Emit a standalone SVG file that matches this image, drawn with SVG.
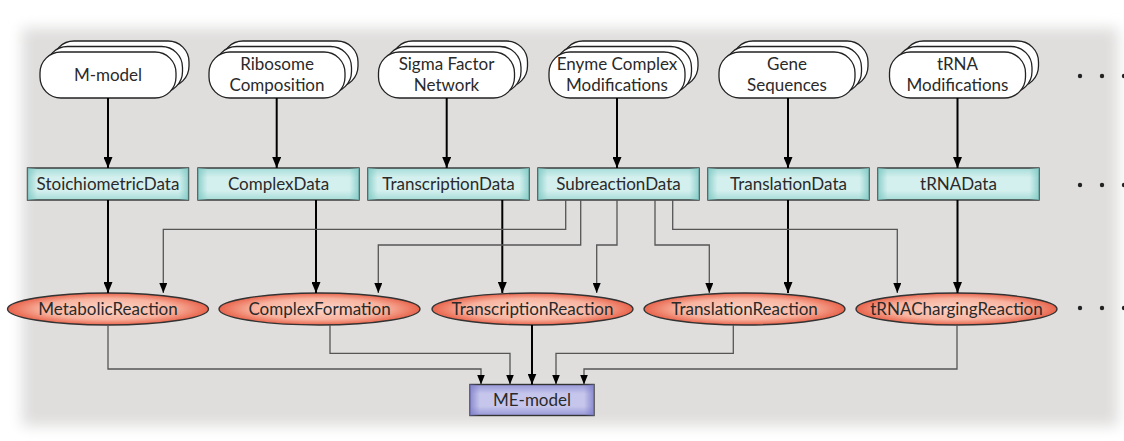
<svg xmlns="http://www.w3.org/2000/svg" width="1124" height="441" viewBox="0 0 1124 441">
<defs>
<filter id="blur" x="-5%" y="-10%" width="110%" height="120%"><feGaussianBlur stdDeviation="7"/></filter>
<linearGradient id="tealV" x1="0" y1="0" x2="0" y2="1">
<stop offset="0" stop-color="#a6dcd8"/><stop offset="0.3" stop-color="#d4f0ee"/><stop offset="0.7" stop-color="#d4f0ee"/><stop offset="1" stop-color="#a6dcd8"/>
</linearGradient>
<linearGradient id="tealH" x1="0" y1="0" x2="1" y2="0">
<stop offset="0" stop-color="#7ec8c4" stop-opacity="0.8"/><stop offset="0.06" stop-color="#7ec8c4" stop-opacity="0"/><stop offset="0.94" stop-color="#7ec8c4" stop-opacity="0"/><stop offset="1" stop-color="#7ec8c4" stop-opacity="0.8"/>
</linearGradient>
<radialGradient id="salmon" cx="0.5" cy="0.5" r="0.5">
<stop offset="0" stop-color="#fcd6c8"/><stop offset="0.65" stop-color="#f8b39f"/><stop offset="1" stop-color="#e9644c"/>
</radialGradient>
<linearGradient id="lavV" x1="0" y1="0" x2="0" y2="1">
<stop offset="0" stop-color="#9898d8"/><stop offset="0.3" stop-color="#c6c6ec"/><stop offset="0.7" stop-color="#c6c6ec"/><stop offset="1" stop-color="#9898d8"/>
</linearGradient>
<linearGradient id="lavH" x1="0" y1="0" x2="1" y2="0">
<stop offset="0" stop-color="#7c7cc8" stop-opacity="0.8"/><stop offset="0.08" stop-color="#7c7cc8" stop-opacity="0"/><stop offset="0.92" stop-color="#7c7cc8" stop-opacity="0"/><stop offset="1" stop-color="#7c7cc8" stop-opacity="0.8"/>
</linearGradient>
<marker id="ah" viewBox="0 0 11 9" markerUnits="userSpaceOnUse" markerWidth="11" markerHeight="9" refX="11" refY="4.5" orient="auto"><path d="M0,0 L11,4.5 L0,9 z" fill="#000"/></marker>
<marker id="ahs" viewBox="0 0 10 8" markerUnits="userSpaceOnUse" markerWidth="10" markerHeight="8" refX="10" refY="4" orient="auto"><path d="M0,0 L10,4 L0,8 z" fill="#000"/></marker>
</defs>
<style>
.t{font-family:Lato,"Open Sans","Liberation Sans",sans-serif;font-size:17px;fill:#2a2a2a;text-anchor:middle}
.stk{fill:#fff;stroke:#222;stroke-width:1.3}
.box{stroke:#333;stroke-width:1.4}
.ell{fill:url(#salmon);stroke:#333;stroke-width:1.4}
.thick{fill:none;stroke:#000;stroke-width:2;marker-end:url(#ah)}
.thin{fill:none;stroke:#555;stroke-width:1.3;marker-end:url(#ahs)}
.dot{fill:#222}
</style>
<rect width="1124" height="441" fill="#fff"/>
<rect x="22" y="28" width="1096" height="398" fill="#dfdedd" filter="url(#blur)"/>

<g id="src-mmodel">
<rect class="stk" x="53" y="41" width="136" height="46" rx="21"/>
<rect class="stk" x="46.5" y="46.5" width="136" height="46" rx="21"/>
<rect class="stk" x="40" y="52" width="136" height="46" rx="21"/>
<text class="t" x="108" y="81">M-model</text>
</g>
<g id="src-ribosome">
<rect class="stk" x="222" y="41" width="136" height="46" rx="21"/>
<rect class="stk" x="215.5" y="46.5" width="136" height="46" rx="21"/>
<rect class="stk" x="209" y="52" width="136" height="46" rx="21"/>
<text class="t" x="277" y="70">Ribosome</text>
<text class="t" x="277" y="91">Composition</text>
</g>
<g id="src-sigma">
<rect class="stk" x="391.5" y="41" width="136" height="46" rx="21"/>
<rect class="stk" x="385" y="46.5" width="136" height="46" rx="21"/>
<rect class="stk" x="378.5" y="52" width="136" height="46" rx="21"/>
<text class="t" x="446.5" y="70">Sigma Factor</text>
<text class="t" x="446.5" y="91">Network</text>
</g>
<g id="src-enzyme">
<rect class="stk" x="562" y="41" width="136" height="46" rx="21"/>
<rect class="stk" x="555.5" y="46.5" width="136" height="46" rx="21"/>
<rect class="stk" x="549" y="52" width="136" height="46" rx="21"/>
<text class="t" x="617" y="70">Enyme Complex</text>
<text class="t" x="617" y="91">Modifications</text>
</g>
<g id="src-gene">
<rect class="stk" x="732" y="41" width="136" height="46" rx="21"/>
<rect class="stk" x="725.5" y="46.5" width="136" height="46" rx="21"/>
<rect class="stk" x="719" y="52" width="136" height="46" rx="21"/>
<text class="t" x="787" y="70">Gene</text>
<text class="t" x="787" y="91">Sequences</text>
</g>
<g id="src-trna">
<rect class="stk" x="902.5" y="41" width="136" height="46" rx="21"/>
<rect class="stk" x="896" y="46.5" width="136" height="46" rx="21"/>
<rect class="stk" x="889.5" y="52" width="136" height="46" rx="21"/>
<text class="t" x="957.5" y="70">tRNA</text>
<text class="t" x="957.5" y="91">Modifications</text>
</g>

<g id="data-stoich"><rect class="box" x="27.5" y="168" width="161" height="32" fill="url(#tealV)"/><rect x="27.5" y="168" width="161" height="32" fill="url(#tealH)"/><text class="t" x="108" y="190">StoichiometricData</text></g>
<g id="data-complex"><rect class="box" x="198" y="168" width="161" height="32" fill="url(#tealV)"/><rect x="198" y="168" width="161" height="32" fill="url(#tealH)"/><text class="t" x="278.5" y="190">ComplexData</text></g>
<g id="data-transcription"><rect class="box" x="368" y="168" width="161" height="32" fill="url(#tealV)"/><rect x="368" y="168" width="161" height="32" fill="url(#tealH)"/><text class="t" x="448.5" y="190">TranscriptionData</text></g>
<g id="data-subreaction"><rect class="box" x="538" y="168" width="161" height="32" fill="url(#tealV)"/><rect x="538" y="168" width="161" height="32" fill="url(#tealH)"/><text class="t" x="618.5" y="190">SubreactionData</text></g>
<g id="data-translation"><rect class="box" x="708" y="168" width="161" height="32" fill="url(#tealV)"/><rect x="708" y="168" width="161" height="32" fill="url(#tealH)"/><text class="t" x="788.5" y="190">TranslationData</text></g>
<g id="data-trna"><rect class="box" x="878" y="168" width="161" height="32" fill="url(#tealV)"/><rect x="878" y="168" width="161" height="32" fill="url(#tealH)"/><text class="t" x="958.5" y="190">tRNAData</text></g>

<g id="rxn-metabolic"><ellipse class="ell" cx="108" cy="309" rx="100.5" ry="16"/><text class="t" x="108" y="315">MetabolicReaction</text></g>
<g id="rxn-complex"><ellipse class="ell" cx="319.5" cy="309" rx="100.5" ry="16"/><text class="t" x="319.5" y="315">ComplexFormation</text></g>
<g id="rxn-transcription"><ellipse class="ell" cx="532.5" cy="309" rx="100.5" ry="16"/><text class="t" x="532.5" y="315">TranscriptionReaction</text></g>
<g id="rxn-translation"><ellipse class="ell" cx="744.5" cy="309" rx="100.5" ry="16"/><text class="t" x="744.5" y="315">TranslationReaction</text></g>
<g id="rxn-trna"><ellipse class="ell" cx="956.5" cy="309" rx="100.5" ry="16"/><text class="t" x="956.5" y="315">tRNAChargingReaction</text></g>

<g id="me-model"><rect class="box" x="470" y="384.5" width="124" height="31" fill="url(#lavV)"/><rect x="470" y="384.5" width="124" height="31" fill="url(#lavH)"/><text class="t" x="532" y="405.5">ME-model</text></g>

<g id="connectors">
<path class="thick" d="M108,98 V168"/>
<path class="thick" d="M276.7,98 V168"/>
<path class="thick" d="M446.7,98 V168"/>
<path class="thick" d="M617,98 V168"/>
<path class="thick" d="M788,98 V168"/>
<path class="thick" d="M957.5,98 V168"/>
<path class="thick" d="M108,200 V293"/>
<path class="thick" d="M316,200 V293"/>
<path class="thick" d="M502.3,200 V293"/>
<path class="thick" d="M788,200 V293"/>
<path class="thick" d="M957.5,200 V293"/>
<path class="thick" d="M532,325 V384.5"/>
<path class="thin" d="M565.7,200 V229.3 H163.3 V293"/>
<path class="thin" d="M580.7,200 V245 H378.3 V293"/>
<path class="thin" d="M617,200 V245 H596.7 V293"/>
<path class="thin" d="M655,200 V245 H709.3 V293"/>
<path class="thin" d="M672.7,200 V229.3 H897.3 V293"/>
<path class="thin" d="M108,325 V369 H481 V384.5"/>
<path class="thin" d="M330,325 V353.3 H510 V384.5"/>
<path class="thin" d="M733.3,325 V353.3 H556 V384.5"/>
<path class="thin" d="M957,325 V369 H584 V384.5"/>
</g>

<g id="ellipsis">
<circle class="dot" cx="1080" cy="76" r="2.2"/><circle class="dot" cx="1102" cy="76" r="2.2"/><circle class="dot" cx="1124" cy="76" r="2.2"/>
<circle class="dot" cx="1080" cy="185" r="2.2"/><circle class="dot" cx="1102" cy="185" r="2.2"/><circle class="dot" cx="1124" cy="185" r="2.2"/>
<circle class="dot" cx="1080" cy="308" r="2.2"/><circle class="dot" cx="1102" cy="308" r="2.2"/><circle class="dot" cx="1124" cy="308" r="2.2"/>
</g>
</svg>
